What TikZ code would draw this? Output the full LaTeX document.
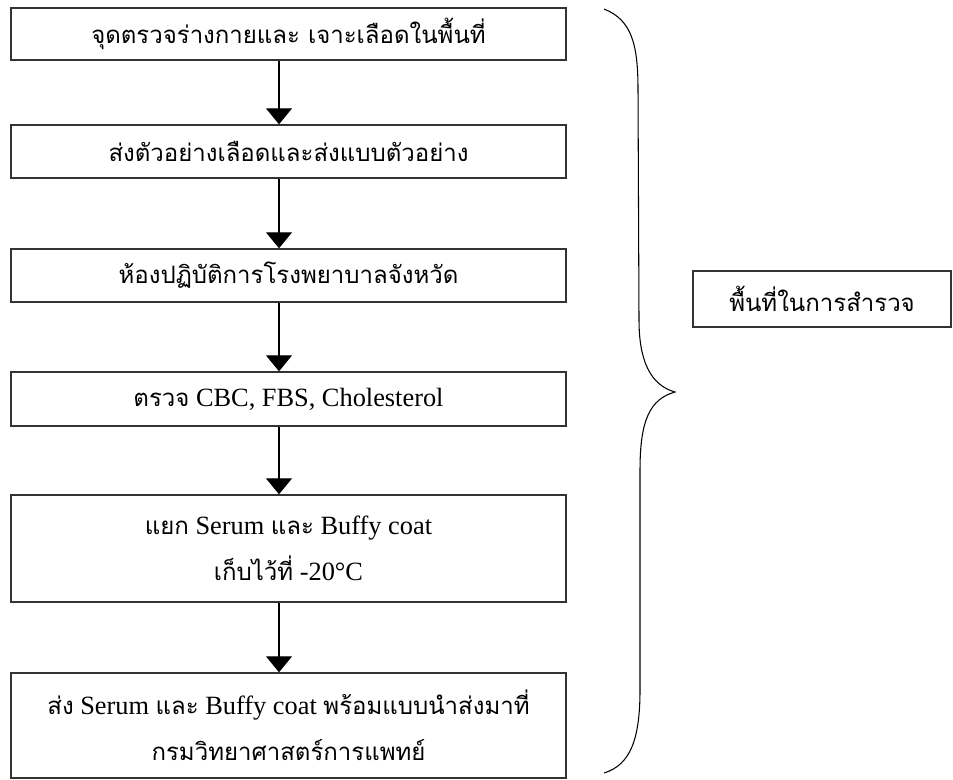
\documentclass[tikz,border=0pt]{standalone}
\usepackage{fontspec}
\setmainfont{Liberation Serif}
\newfontfamily\thaifont[Script=Thai,Scale=0.91]{Loma}
\newcommand{\tx}[1]{{\thaifont #1}}
\usetikzlibrary{arrows.meta}

\tikzset{
	stepbox/.style={draw=black!80, line width=0.8pt, minimum width=11.1cm,
		inner sep=0pt, align=center, font=\fontsize{15}{26}\selectfont},
	areabox/.style={draw=black!80, line width=0.8pt, minimum width=5.16cm,
		minimum height=1.12cm, inner sep=0pt, font=\fontsize{15}{18}\selectfont},
}

\begin{document}
\begin{tikzpicture}[>={Triangle[width=0.52cm,length=0.32cm]}]
	\useasboundingbox (0,0) rectangle (19.06,-15.58);

	%% Steps
	\node [stepbox, minimum height=1.04cm] (s1) at (5.77,-0.68) {\tx{จุดตรวจร่างกายและ เจาะเลือดในพื้นที่}};
	\node [stepbox, minimum height=1.06cm] (s2) at (5.77,-3.03) {\tx{ส่งตัวอย่างเลือดและส่งแบบตัวอย่าง}};
	\node [stepbox, minimum height=1.06cm] (s3) at (5.77,-5.51) {\tx{ห้องปฏิบัติการโรงพยาบาลจังหวัด}};
	\node [stepbox, minimum height=1.08cm] (s4) at (5.77,-7.98) {\tx{ตรวจ} CBC, FBS, Cholesterol};
	\node [stepbox, minimum height=2.14cm] (s5) at (5.77,-10.97)
		{\tx{แยก} Serum \tx{และ} Buffy coat\\ \tx{เก็บไว้ที่} -20°C};
	\node [stepbox, minimum height=2.10cm] (s6) at (5.77,-14.51)
		{\tx{ส่ง} Serum \tx{และ} Buffy coat \tx{พร้อมแบบนำส่งมาที่}\\ \tx{กรมวิทยาศาสตร์การแพทย์}};

	%% Arrows between steps
	\foreach \a/\b in {s1/s2,s2/s3,s3/s4,s4/s5,s5/s6} {
		\draw [->, line width=0.6pt] ([xshift=-0.19cm]\a.south) -- ([xshift=-0.19cm]\b.north);
	}

	%% Brace
	\draw [line width=0.6pt] (12.08,-0.18) .. controls (12.64,-0.40) and (12.76,-0.90) .. (12.76,-1.80)
		-- (12.78,-6.40) .. controls (12.78,-7.20) and (13.00,-7.70) .. (13.50,-7.84)
		.. controls (13.00,-7.98) and (12.80,-8.40) .. (12.80,-9.40)
		-- (12.80,-13.80) .. controls (12.80,-14.80) and (12.60,-15.30) .. (12.08,-15.46);

	%% Label
	\node [areabox] (area) at (16.44,-5.98) {\tx{พื้นที่ในการสำรวจ}};
\end{tikzpicture}
\end{document}
